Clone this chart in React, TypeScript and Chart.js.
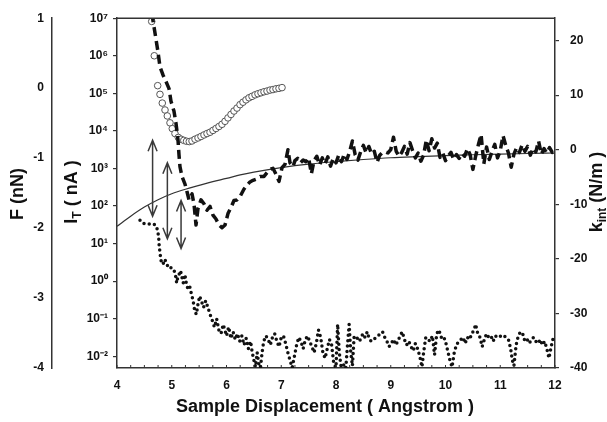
import React, { useEffect, useRef } from "react";
import { Chart, registerables } from "chart.js";

Chart.register(...registerables);

const FONT = '"Liberation Sans", Arial, Helvetica, sans-serif';
const INK = "#111";
const AXIS = "#333";

// ---- axis ticks ----
const xMin = 4;
const xMax = 12;
const currentDecades = [-2, -1, 0, 1, 2, 3, 4, 5, 6, 7];
const currentMin = 0.00488;
const currentMax = 1e7;
const forceMin = -4;
const forceMax = 1;
const stiffnessTicks = [-40, -30, -20, -10, 0, 10, 20];
const stiffnessMin = -40;
const stiffnessMax = 24.1;

// ---- titles ----
const xTitle = "Sample Displacement ( Angstrom )";
const forceTitle = "F (nN)";
const currentTitleMain = "I";
const currentTitleSub = "T";
const currentTitleRest = " ( nA )";
const stiffTitleMain = "k";
const stiffTitleSub = "int";
const stiffTitleRest = " (N/m )";

// ---- force curve F (nN), thin line ----
const forceX = [4.0, 4.25, 4.5, 4.75, 5.0, 5.25, 5.5, 5.75, 6.0, 6.25, 6.5, 7.0, 7.5, 8.0, 8.5, 9.0, 9.5, 10.0, 10.5, 11.0, 11.5, 12.0];
const forceY = [-1.975, -1.83, -1.7, -1.595, -1.51, -1.445, -1.39, -1.335, -1.29, -1.24, -1.2, -1.135, -1.085, -1.05, -1.02, -0.995, -0.978, -0.963, -0.952, -0.942, -0.934, -0.927];

// ---- open circles (log axis) ----
const circleX = [4.634, 4.681, 4.743, 4.785, 4.827, 4.877, 4.919, 4.968, 5.01, 5.059, 5.12, 5.17, 5.22, 5.27, 5.32, 5.37, 5.425, 5.48, 5.534, 5.589, 5.644, 5.699, 5.753, 5.808, 5.863, 5.918, 5.973, 6.027, 6.082, 6.137, 6.192, 6.247, 6.301, 6.356, 6.411, 6.466, 6.521, 6.575, 6.63, 6.685, 6.74, 6.795, 6.849, 6.904, 6.959, 7.014];
const circleY = [8.2e6, 1.0e6, 1.6e5, 9.4e4, 5.5e4, 3.6e4, 2.5e4, 1.64e4, 1.15e4, 8.5e3, 6.7e3, 6.0e3, 5.6e3, 5.3e3, 5.2e3, 5.4e3, 6.0e3, 6.5e3, 7.1e3, 7.8e3, 8.5e3, 9.2e3, 1.03e4, 1.16e4, 1.31e4, 1.5e4, 1.8e4, 2.22e4, 2.74e4, 3.38e4, 4.05e4, 5.0e4, 5.8e4, 6.7e4, 7.6e4, 8.3e4, 9.1e4, 9.75e4, 1.035e5, 1.1e5, 1.15e5, 1.22e5, 1.26e5, 1.32e5, 1.36e5, 1.42e5];

// ---- tunnel current I_T (nA), dotted ----
const currentX = [4.42, 4.47, 4.52, 4.57, 4.62, 4.67, 4.72, 4.76, 4.77, 4.79, 4.81, 4.84, 4.87, 4.9, 4.93, 4.97, 5.0, 5.04, 5.07, 5.09, 5.11, 5.14, 5.16, 5.19, 5.21, 5.24, 5.27, 5.3, 5.33, 5.36, 5.39, 5.42, 5.45, 5.48, 5.51, 5.54, 5.58, 5.62, 5.66, 5.7, 5.74, 5.78, 5.82, 5.86, 5.9, 5.94, 5.97, 6.0, 6.04, 6.08, 6.12, 6.16, 6.2, 6.24, 6.28, 6.32, 6.36, 6.4, 6.44, 6.47, 6.5, 6.53, 6.56, 6.59, 6.62, 6.65, 6.68, 6.72, 6.76, 6.8, 6.84, 6.88, 6.92, 6.96, 7.0, 7.04, 7.08, 7.12, 7.16, 7.2, 7.24, 7.28, 7.32, 7.36, 7.4, 7.44, 7.48, 7.52, 7.56, 7.6, 7.64, 7.68, 7.72, 7.76, 7.8, 7.84, 7.88, 7.92, 7.96, 8.0, 8.03, 8.06, 8.09, 8.12, 8.15, 8.18, 8.21, 8.24, 8.27, 8.3, 8.33, 8.37, 8.41, 8.45, 8.49, 8.53, 8.57, 8.61, 8.65, 8.85, 8.89, 8.93, 8.97, 9.01, 9.05, 9.09, 9.13, 9.17, 9.21, 9.25, 9.29, 9.33, 9.37, 9.41, 9.45, 9.49, 9.53, 9.57, 9.6, 9.64, 9.68, 9.72, 9.76, 9.8, 9.84, 9.88, 9.92, 9.96, 10.0, 10.04, 10.08, 10.12, 10.16, 10.2, 10.24, 10.28, 10.32, 10.36, 10.4, 10.44, 10.48, 10.52, 10.55, 10.59, 10.63, 10.67, 10.71, 10.75, 10.79, 10.83, 10.87, 10.91, 10.95, 10.99, 11.03, 11.07, 11.11, 11.15, 11.19, 11.22, 11.25, 11.29, 11.33, 11.37, 11.41, 11.45, 11.49, 11.53, 11.57, 11.61, 11.65, 11.69, 11.73, 11.77, 11.81, 11.85, 11.89, 11.93, 11.97, 12.0];
const currentY = [42, 35, 33, 34, 32, 33, 30, 16, 8.9, 5.0, 3.2, 2.8, 3.8, 3.2, 2.4, 2.5, 2.1, 2.0, 1.4, 0.89, 1.26, 1.6, 1.9, 1.2, 0.9, 1.5, 0.8, 0.6, 0.7, 0.45, 0.3, 0.16, 0.13, 0.25, 0.4, 0.3, 0.2, 0.3, 0.2, 0.13, 0.09, 0.06, 0.1, 0.05, 0.04, 0.07, 0.05, 0.035, 0.06, 0.03, 0.045, 0.028, 0.04, 0.025, 0.035, 0.02, 0.03, 0.016, 0.025, 0.0126, 0.0079, 0.0052, 0.0126, 0.0063, 0.005, 0.0126, 0.025, 0.035, 0.028, 0.02, 0.032, 0.04, 0.025, 0.018, 0.032, 0.035, 0.022, 0.0126, 0.0079, 0.005, 0.01, 0.02, 0.032, 0.025, 0.016, 0.028, 0.035, 0.025, 0.018, 0.0126, 0.022, 0.05, 0.032, 0.0126, 0.0089, 0.016, 0.028, 0.02, 0.0063, 0.005, 0.071, 0.0126, 0.0056, 0.005, 0.0063, 0.005, 0.02, 0.071, 0.0126, 0.0056, 0.032, 0.035, 0.025, 0.028, 0.04, 0.032, 0.045, 0.028, 0.025, 0.045, 0.032, 0.025, 0.018, 0.022, 0.028, 0.02, 0.025, 0.035, 0.045, 0.028, 0.02, 0.025, 0.018, 0.014, 0.022, 0.016, 0.01, 0.0052, 0.0126, 0.032, 0.028, 0.025, 0.035, 0.011, 0.04, 0.05, 0.032, 0.035, 0.025, 0.014, 0.0079, 0.0052, 0.0126, 0.02, 0.025, 0.028, 0.032, 0.022, 0.032, 0.028, 0.04, 0.05, 0.071, 0.04, 0.032, 0.018, 0.028, 0.04, 0.032, 0.035, 0.025, 0.035, 0.032, 0.035, 0.032, 0.035, 0.032, 0.028, 0.016, 0.0079, 0.0056, 0.02, 0.035, 0.045, 0.04, 0.025, 0.028, 0.022, 0.028, 0.032, 0.025, 0.022, 0.028, 0.02, 0.025, 0.016, 0.0089, 0.018, 0.032, 0.035];

// ---- interaction stiffness k_int (N/m), thick dashes ----
const stiffX = [4.64, 4.658, 4.694, 4.749, 4.785, 4.84, 4.895, 4.95, 4.986, 5.04, 5.078, 5.114, 5.132, 5.15, 5.187, 5.242, 5.279, 5.315, 5.37, 5.406, 5.443, 5.479, 5.534, 5.589, 5.644, 5.699, 5.753, 5.808, 5.863, 5.918, 5.973, 6.027, 6.082, 6.137, 6.192, 6.247, 6.32, 6.374, 6.429, 6.484, 6.539, 6.612, 6.685, 6.74, 6.795, 6.849, 6.904, 6.959, 7.014, 7.068, 7.123, 7.16, 7.215, 7.25, 7.3, 7.35, 7.4, 7.45, 7.5, 7.55, 7.6, 7.65, 7.7, 7.75, 7.8, 7.85, 7.9, 7.95, 8.0, 8.05, 8.1, 8.15, 8.2, 8.25, 8.3, 8.35, 8.4, 8.45, 8.5, 8.55, 8.6, 8.65, 8.7, 8.75, 8.8, 8.85, 8.9, 8.95, 9.0, 9.05, 9.1, 9.15, 9.2, 9.25, 9.3, 9.35, 9.4, 9.45, 9.5, 9.55, 9.6, 9.65, 9.7, 9.75, 9.8, 9.85, 9.9, 9.95, 10.0, 10.05, 10.1, 10.15, 10.2, 10.25, 10.3, 10.35, 10.4, 10.45, 10.5, 10.55, 10.6, 10.65, 10.7, 10.75, 10.8, 10.85, 10.9, 10.95, 11.0, 11.05, 11.1, 11.15, 11.2, 11.25, 11.3, 11.35, 11.4, 11.45, 11.5, 11.55, 11.6, 11.65, 11.7, 11.75, 11.8, 11.85, 11.9, 11.95, 12.0];
const stiffY = [25, 23.6, 21.4, 17.9, 15.2, 13.7, 12.5, 11.2, 8.9, 7.1, 4.8, 1.8, -0.9, -3.1, -4.9, -6.3, -7.7, -9.2, -8.1, -9.9, -13.8, -10.8, -9.2, -9.9, -11.1, -10.4, -12.0, -12.7, -13.8, -14.3, -13.8, -11.7, -10.6, -9.3, -9.2, -8.6, -7.2, -6.5, -5.9, -5.6, -5.4, -4.9, -4.9, -4.2, -3.6, -3.4, -4.5, -5.8, -3.3, -2.7, 0.0, -2.4, -3.1, -2.0, -1.6, -2.4, -1.9, -2.2, -1.5, -4.4, -2.0, -1.2, -2.8, -1.5, -2.6, -1.3, -3.0, -1.6, -2.4, -1.0, -2.2, -0.8, -1.8, -0.3, 1.6, -0.9, -1.9, -0.4, 0.8, -0.6, 0.6, -0.8, -0.3, -2.3, -1.0, -0.5, -0.4, -0.6, 0.0, 2.3, -0.3, -1.2, -0.5, 0.6, -0.8, 1.3, -0.2, -1.5, -0.6, -2.1, -1.0, 1.8, -0.2, 2.0, 0.3, 1.2, -1.4, -0.6, -2.0, -1.1, -0.5, -1.8, -0.9, -1.6, -0.7, -1.2, 0.2, -0.9, -3.6, -1.2, 0.9, 2.8, -2.6, 0.5, -1.8, -0.3, 1.0, -1.5, -0.2, 2.6, 0.8, -0.6, -3.2, -0.8, 0.4, -0.5, 0.9, -0.3, 0.6, -1.0, 0.3, -0.4, 1.6, -0.8, 0.2, -0.6, 0.4, -0.5, -0.3];

// ---- double-headed arrows (in k_int units) ----
const arrowX = [4.65, 4.92, 5.17];
const arrowTop = [1.75, -2.4, -9.3];
const arrowBottom = [-12.2, -16.3, -18.1];

const SUP: Record<string, string> = { "-": "\u207b", "0": "\u2070", "1": "\u00b9", "2": "\u00b2", "3": "\u00b3", "4": "\u2074", "5": "\u2075", "6": "\u2076", "7": "\u2077", "8": "\u2078", "9": "\u2079" };
const sup = (n: number) => String(n).split("").map((c) => SUP[c] || c).join("");

const pts = (xs: number[], ys: number[]) => xs.map((x, i) => ({ x, y: ys[i] }));

type Part = { text: string; size: number; shift: number };

function drawVertical(ctx: CanvasRenderingContext2D, parts: Part[], baselineX: number, centerY: number) {
  ctx.save();
  ctx.translate(baselineX, centerY);
  ctx.rotate(-Math.PI / 2);
  ctx.textAlign = "left";
  ctx.textBaseline = "alphabetic";
  ctx.fillStyle = INK;
  let total = 0;
  const widths = parts.map((p) => {
    ctx.font = `bold ${p.size}px ${FONT}`;
    const w = ctx.measureText(p.text).width;
    total += w;
    return w;
  });
  let x = -total / 2;
  parts.forEach((p, i) => {
    ctx.font = `bold ${p.size}px ${FONT}`;
    ctx.fillText(p.text, x, p.shift);
    x += widths[i];
  });
  ctx.restore();
}

const decorPlugin = {
  id: "decor",
  afterDatasetsDraw(chart: any) {
    const { ctx, chartArea, scales } = chart;
    const xs = scales.x;
    const ks = scales.yK;
    ctx.save();
    // top frame line
    ctx.strokeStyle = AXIS;
    ctx.lineWidth = 1.5;
    ctx.beginPath();
    ctx.moveTo(chartArea.left, chartArea.top);
    ctx.lineTo(chartArea.right, chartArea.top);
    ctx.stroke();
    // inner minor ticks on x axis
    ctx.lineWidth = 1;
    for (let i = 0; i <= (xMax - xMin) * 4; i++) {
      const px = xs.getPixelForValue(xMin + i * 0.25);
      ctx.beginPath();
      ctx.moveTo(px, chartArea.bottom);
      ctx.lineTo(px, chartArea.bottom - 3);
      ctx.stroke();
    }
    // arrows
    ctx.strokeStyle = "#3a3a3a";
    ctx.lineWidth = 1.5;
    arrowX.forEach((ax, i) => {
      const px = xs.getPixelForValue(ax);
      const t = ks.getPixelForValue(arrowTop[i]);
      const b = ks.getPixelForValue(arrowBottom[i]);
      ctx.beginPath();
      ctx.moveTo(px, t);
      ctx.lineTo(px, b);
      ctx.moveTo(px - 4.5, t + 11);
      ctx.lineTo(px, t);
      ctx.lineTo(px + 4.5, t + 11);
      ctx.moveTo(px - 4.5, b - 11);
      ctx.lineTo(px, b);
      ctx.lineTo(px + 4.5, b - 11);
      ctx.stroke();
    });
    ctx.restore();
  },
  afterDraw(chart: any) {
    const { ctx } = chart;
    ctx.save();
    ctx.fillStyle = INK;
    ctx.font = `bold 18px ${FONT}`;
    ctx.textAlign = "center";
    ctx.textBaseline = "alphabetic";
    ctx.fillText(xTitle, 325, 412);
    ctx.restore();
    drawVertical(ctx, [{ text: forceTitle, size: 18, shift: 0 }], 23, 194);
    drawVertical(
      ctx,
      [
        { text: currentTitleMain, size: 18, shift: 0 },
        { text: currentTitleSub, size: 12, shift: 4 },
        { text: currentTitleRest, size: 18, shift: 0 },
      ],
      77,
      192
    );
    drawVertical(
      ctx,
      [
        { text: stiffTitleMain, size: 18, shift: 0 },
        { text: stiffTitleSub, size: 12, shift: 4 },
        { text: stiffTitleRest, size: 18, shift: 0 },
      ],
      602,
      192
    );
  },
};

const tickFont = { family: FONT, size: 12, weight: "bold" as const };

export default function App() {
  const ref = useRef<HTMLCanvasElement | null>(null);
  useEffect(() => {
    if (!ref.current) return;
    const chart = new Chart(ref.current, {
      type: "scatter",
      data: {
        datasets: [
          {
            label: "k_int",
            data: pts(stiffX, stiffY),
            yAxisID: "yK",
            showLine: true,
            borderColor: INK,
            borderWidth: 3.5,
            borderDash: [9, 5],
            borderCapStyle: "butt",
            borderJoinStyle: "round",
            pointRadius: 0,
            tension: 0,
          },
          {
            label: "circles",
            data: pts(circleX, circleY),
            yAxisID: "yLog",
            showLine: false,
            pointRadius: 3.3,
            pointBorderWidth: 1,
            pointBorderColor: "#555",
            pointBackgroundColor: "#fff",
          },
          {
            label: "I_T",
            data: pts(currentX, currentY),
            yAxisID: "yLog",
            showLine: true,
            borderColor: INK,
            borderWidth: 3.5,
            borderDash: [0, 5.4],
            borderCapStyle: "round",
            borderJoinStyle: "round",
            pointRadius: 0,
            tension: 0,
          },
          {
            label: "F",
            data: pts(forceX, forceY),
            yAxisID: "yF",
            showLine: true,
            borderColor: AXIS,
            borderWidth: 1.2,
            pointRadius: 0,
            cubicInterpolationMode: "monotone",
          },
        ],
      } as any,
      options: {
        responsive: true,
        maintainAspectRatio: false,
        animation: false,
        events: [],
        layout: { padding: { top: 10, left: 0, right: 0, bottom: 0 } },
        plugins: { legend: { display: false }, tooltip: { enabled: false } },
        scales: {
          x: {
            type: "linear",
            position: "bottom",
            min: xMin,
            max: xMax,
            ticks: { stepSize: 1, font: tickFont, color: INK, padding: 10, maxRotation: 0, autoSkip: false },
            grid: { display: false, drawTicks: false },
            border: { display: true, color: AXIS, width: 1.5 },
            afterFit: (s: any) => {
              s.height = 54;
            },
          },
          yLog: {
            type: "logarithmic",
            position: "left",
            weight: 0,
            min: currentMin,
            max: currentMax,
            afterBuildTicks: (s: any) => {
              s.ticks = currentDecades.map((e) => ({ value: Math.pow(10, e) }));
            },
            ticks: {
              font: tickFont,
              color: INK,
              padding: 5,
              autoSkip: false,
              callback: (v: any) => "10" + sup(Math.round(Math.log10(Number(v)))),
            },
            grid: { display: true, drawOnChartArea: false, drawTicks: true, tickLength: 4, color: AXIS, lineWidth: 1.2 },
            border: { display: true, color: AXIS, width: 1.5 },
            afterFit: (s: any) => {
              s.width = 65;
            },
          },
          yF: {
            type: "linear",
            position: "left",
            weight: 1,
            min: forceMin,
            max: forceMax,
            ticks: { stepSize: 1, font: tickFont, color: INK, padding: 8, autoSkip: false },
            grid: { display: false, drawTicks: false },
            border: { display: true, color: AXIS, width: 1.5 },
            afterFit: (s: any) => {
              s.width = 52;
            },
          },
          yK: {
            type: "linear",
            position: "right",
            min: stiffnessMin,
            max: stiffnessMax,
            afterBuildTicks: (s: any) => {
              s.ticks = stiffnessTicks.map((v) => ({ value: v }));
            },
            ticks: { font: tickFont, color: INK, padding: 11, autoSkip: false },
            grid: { display: true, drawOnChartArea: false, drawTicks: true, tickLength: 4, color: AXIS, lineWidth: 1.2 },
            border: { display: true, color: AXIS, width: 1.5 },
            afterFit: (s: any) => {
              s.width = 52;
            },
          },
        },
      } as any,
      plugins: [decorPlugin],
    });
    return () => chart.destroy();
  }, []);
  return (
    <div style={{ position: "fixed", left: 0, top: 0, width: 607, height: 422, background: "#fff" }}>
      <canvas ref={ref} />
    </div>
  );
}
